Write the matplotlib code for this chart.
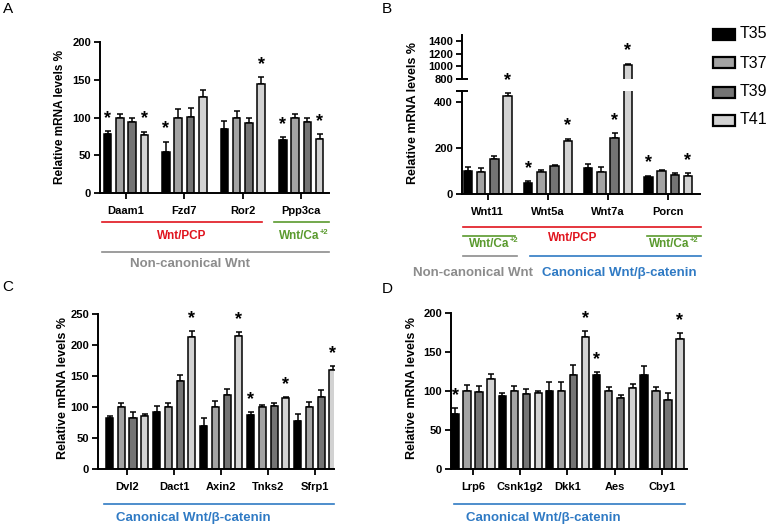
import numpy as np
import matplotlib
matplotlib.use("Agg")
from matplotlib import pyplot as plt
from matplotlib.lines import Line2D
from matplotlib.patches import Rectangle

plt.rcParams['font.family'] = ['Liberation Sans', 'DejaVu Sans']

series = ['T35', 'T37', 'T39', 'T41']
fills = ['#000000', '#a3a3a3', '#747474', '#d2d2d2']

# panel A
genes_a = ['Daam1', 'Fzd7', 'Ror2', 'Ppp3ca']
a_mean = [[78, 54, 85, 70], [100, 100, 100, 100], [94, 101, 93, 94], [77, 127, 145, 72]]
a_err = [[4, 14, 11, 4], [4, 11, 9, 5], [5, 11, 7, 6], [4, 9, 8, 6]]
a_sig = [(0, 0), (0, 3), (1, 0), (2, 3), (3, 0), (3, 3)]

# panel B
genes_b = ['Wnt11', 'Wnt5a', 'Wnt7a', 'Porcn']
b_mean = [[101, 47, 114, 76], [98, 98, 98, 101], [153, 124, 244, 82], [428, 231, 1020, 80]]
b_err = [[19, 10, 16, 4], [14, 7, 22, 3], [13, 4, 22, 8], [13, 11, 20, 10]]
b_sig = [(0, 3), (1, 0), (1, 3), (2, 2), (2, 3), (3, 0), (3, 3)]

# panel C
genes_c = ['Dvl2', 'Dact1', 'Axin2', 'Tnks2', 'Sfrp1']
c_mean = [[82, 92, 70, 87, 77], [100, 100, 100, 100, 100], [83, 142, 120, 102, 116], [85, 213, 214, 114, 160]]
c_err = [[4, 9, 13, 5, 11], [6, 7, 10, 4, 8], [9, 10, 9, 4, 11], [4, 9, 7, 2, 6]]
c_sig = [(1, 3), (2, 3), (3, 0), (3, 3), (4, 3)]

# panel D
genes_d = ['Lrp6', 'Csnk1g2', 'Dkk1', 'Aes', 'Cby1']
d_mean = [[70, 93, 100, 120, 121], [100, 100, 100, 100, 100], [99, 96, 120, 91, 89], [116, 97, 169, 104, 167]]
d_err = [[8, 4, 12, 4, 11], [8, 6, 11, 5, 5], [8, 6, 13, 4, 8], [6, 3, 8, 5, 7]]
d_sig = [(0, 0), (2, 3), (3, 0), (4, 3)]

W, H = 777, 525
fig = plt.figure(figsize=(W / 100, H / 100), dpi=100)


def box(l, t, r, b):
    return [l / W, 1 - b / H, (r - l) / W, (b - t) / H]


def style(ax, genes, ylim, yticks, xlim):
    ax.patch.set_visible(False)
    for s in ['top', 'right']:
        ax.spines[s].set_visible(False)
    for s in ['left', 'bottom']:
        ax.spines[s].set_linewidth(1.4)
    ax.set_xlim(*xlim)
    ax.set_ylim(*ylim)
    ax.set_yticks(yticks)
    ax.set_xticks(np.arange(len(genes)))
    ax.set_xticklabels(genes)
    ax.tick_params(length=4, width=1.3, labelsize=8, pad=2.5)
    ax.tick_params(axis='x', pad=5)
    for t in ax.get_xticklabels() + ax.get_yticklabels():
        t.set_fontweight('bold')


def bars(ax, mean, err, step, width):
    n = len(mean[0])
    x = np.arange(n)
    for i in range(4):
        pos = x + (i - 1.5) * step
        ax.bar(pos, mean[i], width, color=fills[i], edgecolor='black', linewidth=1.1, zorder=2)
        ax.errorbar(pos, mean[i], yerr=[np.zeros(n), err[i]], fmt='none', ecolor='black',
                    elinewidth=1.1, capsize=2.2, capthick=1.1, zorder=1)


def stars(ax, mean, err, sig, step):
    for g, s in sig:
        ax.annotate('*', xy=(g + (s - 1.5) * step, mean[s][g] + err[s][g]), xytext=(0, 6),
                    textcoords='offset points', ha='center', va='baseline', fontsize=13,
                    fontweight='bold', annotation_clip=False, zorder=5)


# A
ax_a = fig.add_axes(box(100, 42, 329, 193))
bars(ax_a, a_mean, a_err, 0.21, 0.13)
stars(ax_a, a_mean, a_err, a_sig, 0.21)
style(ax_a, genes_a, (0, 200), [0, 50, 100, 150, 200], (-0.445, 3.476))

# B (broken axis)
ax_bb = fig.add_axes(box(462, 91, 700, 194))
ax_bt = fig.add_axes(box(462, 35, 700, 79))
for ax in (ax_bb, ax_bt):
    bars(ax, b_mean, b_err, 0.22, 0.14)
style(ax_bb, genes_b, (0, 450), [0, 200, 400], (-0.43, 3.53))
style(ax_bt, genes_b, (800, 1500), [800, 1000, 1200, 1400], (-0.43, 3.53))
ax_bt.spines['bottom'].set_visible(False)
ax_bt.set_xticks([])
for g, s in b_sig:
    top = b_mean[s][g] + b_err[s][g]
    stars(ax_bt if top > 450 else ax_bb, b_mean, b_err, [(g, s)], 0.22)
for ax, yy in ((ax_bb, 1), (ax_bt, 0)):
    ax.plot([0], [yy], marker='_', markersize=8, markeredgewidth=1.4, color='black',
            transform=ax.transAxes, clip_on=False)

# C
ax_c = fig.add_axes(box(98, 314, 334, 469))
bars(ax_c, c_mean, c_err, 0.25, 0.15)
stars(ax_c, c_mean, c_err, c_sig, 0.25)
style(ax_c, genes_c, (0, 250), [0, 50, 100, 150, 200, 250], (-0.62, 4.4))

# D
ax_d = fig.add_axes(box(451, 313, 687, 469))
bars(ax_d, d_mean, d_err, 0.254, 0.155)
stars(ax_d, d_mean, d_err, d_sig, 0.254)
style(ax_d, genes_d, (0, 200), [0, 50, 100, 150, 200], (-0.466, 4.53))

# y labels
ylab = 'Relative mRNA levels %'
for x, y, fs in ((60, 117, 8.5), (413, 113, 9), (63, 388, 9), (412, 388, 9)):
    fig.text(x / W, 1 - y / H, ylab, rotation=90, ha='center', va='center',
             fontsize=fs, fontweight='bold')

# panel letters
for x, y, s in ((8, 9, 'A'), (387, 9, 'B'), (8, 287, 'C'), (387, 289, 'D')):
    fig.text(x / W, 1 - y / H, s, ha='center', va='center', fontsize=11)

# legend
for i, name in enumerate(series):
    yc = [34, 63, 92, 120][i]
    fig.add_artist(Rectangle((713 / W, 1 - (yc + 5.5) / H), 22 / W, 11 / H,
                             facecolor=fills[i], edgecolor='black', linewidth=1.6,
                             transform=fig.transFigure))
    fig.text(740 / W, 1 - yc / H, name, ha='left', va='center', fontsize=11.5)

red, green, gray, blue = '#e0141e', '#5a9a2e', '#8c8c8c', '#2f7ac4'


def hline(x0, x1, y, c):
    fig.add_artist(Line2D([x0 / W, x1 / W], [1 - y / H, 1 - y / H], color=c, linewidth=1.2,
                          transform=fig.transFigure))


def label(x, y, s, c, fs):
    return fig.text(x / W, 1 - y / H, s, color=c, ha='center', va='center', fontsize=fs,
                    fontweight='bold')


# A annotations
hline(102, 262, 222, red)
label(182, 236, 'Wnt/PCP', red, 8.5)
hline(274, 329, 222, green)
t1 = label(299, 236, 'Wnt/Ca', green, 8.5)
hline(102, 329, 252, gray)
label(190, 264, 'Non-canonical Wnt', gray, 9.5)

# B annotations
hline(463, 701, 227, red)
label(573, 238, 'Wnt/PCP', red, 8.5)
hline(463, 515, 236, green)
hline(647, 701, 236, green)
t2 = label(489, 244, 'Wnt/Ca', green, 8.5)
t3 = label(669, 244, 'Wnt/Ca', green, 8.5)
hline(463, 517, 256, gray)
hline(530, 701, 256, blue)
label(473, 273, 'Non-canonical Wnt', gray, 9.5)
label(619, 273, 'Canonical Wnt/β-catenin', blue, 9.5)

# C and D annotations
hline(104, 334, 504, blue)
label(193, 518, 'Canonical Wnt/β-catenin', blue, 9.5)
hline(454, 685, 504, blue)
label(543, 518, 'Canonical Wnt/β-catenin', blue, 9.5)

fig.canvas.draw()
for t in (t1, t2, t3):
    bb = t.get_window_extent()
    fig.text((bb.x1 + 0.5) / W, (bb.y1 + 1) / H, '+2', color=green, fontsize=5.5,
             fontweight='bold', ha='left', va='top')

fig.savefig('out.png', dpi=100)
